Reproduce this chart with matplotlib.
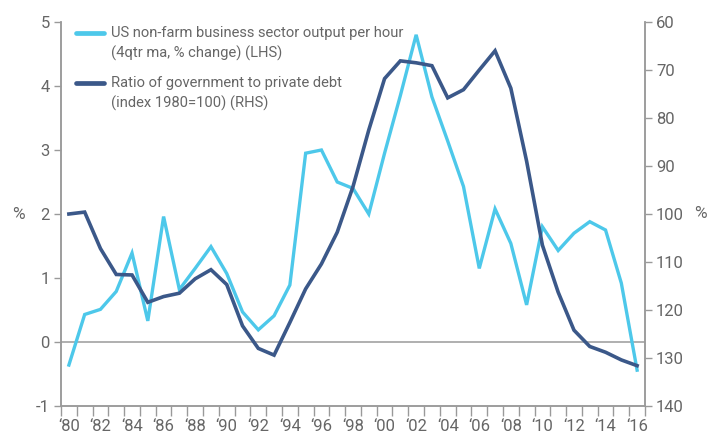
import matplotlib
matplotlib.use("Agg")
import matplotlib.pyplot as plt
from matplotlib.lines import Line2D
import numpy as np

plt.rcParams['font.family'] = ['Roboto', 'DejaVu Sans']

years = list(range(1980, 2017))
productivity = [-0.36, 0.43, 0.51, 0.79, 1.39, 0.33, 1.96, 0.82, 1.15, 1.49,
                1.07, 0.47, 0.19, 0.41, 0.89, 2.95, 3.00, 2.50, 2.40, 2.00,
                2.95, 3.85, 4.80, 3.83, 3.14, 2.43, 1.15, 2.08, 1.54, 0.58,
                1.80, 1.43, 1.70, 1.88, 1.75, 0.92, -0.44]
debt_ratio = [100.0, 99.6, 107.2, 112.6, 112.7, 118.4, 117.2, 116.5, 113.5, 111.6,
              114.7, 123.3, 128.0, 129.4, 122.6, 115.6, 110.4, 103.8, 94.3, 82.5,
              71.8, 68.1, 68.5, 69.1, 75.8, 74.1, 70.0, 66.0, 73.8, 89.0,
              106.5, 116.3, 124.2, 127.6, 128.8, 130.4, 131.6]
label_years = list(range(1980, 2017, 2))
tick_labels = ["\u2018%02d" % (y % 100) for y in label_years]
left_ticks = [-1, 0, 1, 2, 3, 4, 5]
right_ticks = [60, 70, 80, 90, 100, 110, 120, 130, 140]
legend_lines = [["US non-farm business sector output per hour", "(4qtr ma, % change) (LHS)"],
                ["Ratio of government to private debt", "(index 1980=100) (RHS)"]]

LIGHT = '#4dc8ea'
DARK = '#3b5889'
TXT = '#666666'
AX = '#9a9a9a'

W, H = 710, 436
fig = plt.figure(figsize=(7.1, 4.36), dpi=100)
ax = fig.add_axes([61/W, 1-406/H, (645-61)/W, (406-22)/H])
ax2 = ax.twinx()

ax.axhline(0, color=AX, lw=1.1, zorder=1)
ax.plot(years, productivity, color=LIGHT, lw=2.4, zorder=3, solid_joinstyle='miter')
ax2.plot(years, debt_ratio, color=DARK, lw=2.6, zorder=3, solid_joinstyle='miter')
ax.set_zorder(1); ax2.set_zorder(2)
ax2.patch.set_visible(False)

ax.set_xlim(1979.5, 2016.5)
ax.set_ylim(-1, 5)
ax2.set_ylim(140, 60)

ax.set_yticks(left_ticks)
ax.set_yticklabels([str(t) for t in left_ticks])
ax2.set_yticks(right_ticks)
ax2.set_yticklabels([str(t) for t in right_ticks])

ax.set_xticks(label_years)
ax.set_xticklabels(tick_labels)
ax.set_xticks(np.arange(1979.5, 2017, 1.0), minor=True)
ax.tick_params(axis='x', which='major', length=0, pad=9, labelsize=12, colors=TXT)
ax.tick_params(axis='x', which='minor', length=7, width=1, color=AX, direction='out')
ax.tick_params(axis='y', length=5, width=1, color=AX, labelsize=12, labelcolor=TXT, pad=3)
ax2.tick_params(axis='y', length=5, width=1, color=AX, labelsize=12, labelcolor=TXT, pad=3)
ax2.tick_params(axis='x', length=0)

for a in (ax, ax2):
    a.spines['top'].set_visible(False)
    for s in ('left', 'right', 'bottom'):
        a.spines[s].set_color(AX)
        a.spines[s].set_linewidth(1.1)

fig.text(18/W, 1-214/H, '%', color=TXT, fontsize=12.5, ha='center', va='center')
fig.text(700/W, 1-213/H, '%', color=TXT, fontsize=12.5, ha='center', va='center')

# legend (drawn manually for exact placement)
for color, lines, y0 in zip([LIGHT, DARK], legend_lines, [33, 83]):
    fig.add_artist(Line2D([76/W, 104/W], [1-y0/H, 1-y0/H], color=color, lw=3.4,
                          solid_capstyle='round', transform=fig.transFigure))
    for i, line in enumerate(lines):
        fig.text(111/W, 1-(y0+20*i)/H, line, color=TXT, fontsize=10.6,
                 ha='left', va='center')

fig.savefig('out.png', dpi=100)
